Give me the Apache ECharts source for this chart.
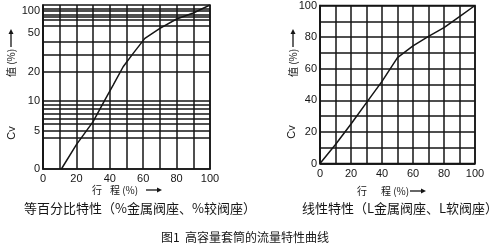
<!DOCTYPE html>
<html>
<head>
<meta charset="utf-8">
<script src="https://cdn.jsdelivr.net/npm/echarts@6/dist/echarts.min.js"></script>
<style>
html,body{margin:0;padding:0;background:#fff;}
#chart{width:500px;height:244px;}
</style>
</head>
<body>
<div id="chart"></div>
<script>
// ---- data ----
const leftTravel = [11, 20, 30, 37, 42, 48, 54, 61, 70, 80, 90, 100];
const leftCv     = [0, 3.2, 6.55, 10.3, 15.5, 24.1, 34.4, 45.9, 58.4, 75, 85.7, 100];
const rightTravel = [0, 10, 20, 30, 40, 50, 60, 70, 80, 90, 100];
const rightCv     = [0, 12, 25, 38.5, 52, 67, 74.5, 80.5, 86, 93, 100];
const xTickLabels = [0, 20, 40, 60, 80, 100];
const leftYTickLabels = [0, 5, 10, 20, 50, 100];
const leftYGridCv = [4.1, 5, 6.2, 7, 7.8, 8.7, 9.3, 10, 20.2, 33.6, 43.3, 62.5, 73.2, 78.6, 82.1, 89.3, 92.9];
const rightYTickLabels = [0, 20, 40, 60, 80, 100];

// ---- the left chart's irregular (pseudo-log) Cv scale: Cv -> axis units (0..100) ----
const scaleCv  = [0, 5, 10, 20, 50, 100];
const scalePos = [0, 23.2, 41.5, 59.1, 82.9, 100];
function toPos(cv) {
  for (let i = 1; i < scaleCv.length; i++) {
    if (cv <= scaleCv[i]) {
      const t = (cv - scaleCv[i - 1]) / (scaleCv[i] - scaleCv[i - 1]);
      return scalePos[i - 1] + t * (scalePos[i] - scalePos[i - 1]);
    }
  }
  return 100;
}
const leftLabelPos = leftYTickLabels.map(toPos);

const INK = '#151515';
const NUM_FONT = 'Liberation Sans, Arial, sans-serif';
const CJK_FONT = '"Noto Sans CJK SC", sans-serif';

const chart = echarts.init(document.getElementById('chart'), null, {renderer: 'canvas'});

function xAxisCfg(gridIndex, margin) {
  return {
    type: 'value', gridIndex, min: 0, max: 100, interval: 10,
    axisLine: {show: true, lineStyle: {color: INK, width: 1.5}},
    axisTick: {show: false},
    splitLine: {show: true, lineStyle: {color: INK, width: 1.5}},
    axisLabel: {
      color: INK, fontFamily: NUM_FONT, fontSize: 11, margin,
      formatter: v => (xTickLabels.indexOf(v) >= 0 ? String(v) : '')
    }
  };
}

function arrowUp(x, yTop, yBot) {
  return [
    {type: 'line', shape: {x1: x, y1: yBot, x2: x, y2: yTop + 4}, style: {stroke: INK, lineWidth: 1.3}},
    {type: 'polygon', shape: {points: [[x, yTop], [x - 2.5, yTop + 5], [x + 2.5, yTop + 5]]}, style: {fill: INK}}
  ];
}
function arrowRight(y, xL, xR) {
  return [
    {type: 'line', shape: {x1: xL, y1: y, x2: xR - 4, y2: y}, style: {stroke: INK, lineWidth: 1.3}},
    {type: 'polygon', shape: {points: [[xR, y], [xR - 5, y - 2.5], [xR - 5, y + 2.5]]}, style: {fill: INK}}
  ];
}
function rotText(text, x, y, size, font) {
  return {type: 'text', x, y, rotation: Math.PI / 2,
    style: {text, fill: INK, font: size + 'px ' + font, align: 'center', verticalAlign: 'middle'}};
}
function plainText(text, x, y, size, font, align) {
  return {type: 'text', x, y,
    style: {text, fill: INK, font: size + 'px ' + font, align: align || 'center', verticalAlign: 'middle'}};
}

const option = {
  backgroundColor: '#fff',
  animation: false,
  grid: [
    {left: 43, top: 5, width: 167, height: 164, show: true, borderColor: INK, borderWidth: 1.5, containLabel: false},
    {left: 320, top: 4.5, width: 155, height: 159, show: true, borderColor: INK, borderWidth: 1.5, containLabel: false}
  ],
  xAxis: [xAxisCfg(0, 4), xAxisCfg(1, 5)],
  yAxis: [
    {
      type: 'value', gridIndex: 0, min: 0, max: 100,
      axisLine: {show: true, lineStyle: {color: INK, width: 1.5}},
      axisTick: {show: false, customValues: leftYGridCv.map(toPos)},
      splitLine: {show: true, lineStyle: {color: INK, width: 1.5}},
      axisLabel: {
        color: INK, fontFamily: NUM_FONT, fontSize: 11, margin: 3,
        customValues: leftLabelPos,
        formatter: v => {
          let best = 0;
          leftLabelPos.forEach((p, i) => { if (Math.abs(p - v) < Math.abs(leftLabelPos[best] - v)) best = i; });
          const s = String(leftYTickLabels[best]);
          return best === leftLabelPos.length - 1 ? '{lo|' + s + '}' : s;
        },
        rich: {lo: {fontFamily: NUM_FONT, fontSize: 11, color: INK, padding: [12, 0, 0, 0]}}
      }
    },
    {
      type: 'value', gridIndex: 1, min: 0, max: 100, interval: 10,
      axisLine: {show: true, lineStyle: {color: INK, width: 1.5}},
      axisTick: {show: false},
      splitLine: {show: true, lineStyle: {color: INK, width: 1.5}},
      axisLabel: {
        color: INK, fontFamily: NUM_FONT, fontSize: 11, margin: 3,
        formatter: v => (rightYTickLabels.indexOf(v) >= 0 ? String(v) : '')
      }
    }
  ],
  series: [
    {
      type: 'line', xAxisIndex: 0, yAxisIndex: 0, symbol: 'none', silent: true,
      lineStyle: {color: INK, width: 1.5},
      data: leftTravel.map((x, i) => [x, toPos(leftCv[i])])
    },
    {
      type: 'line', xAxisIndex: 1, yAxisIndex: 1, symbol: 'none', silent: true,
      lineStyle: {color: INK, width: 1.5},
      data: rightTravel.map((x, i) => [x, rightCv[i]])
    }
  ],
  graphic: [
    // left y-axis name
    rotText('Cv', 12, 133, 11, NUM_FONT),
    rotText('值 (%)', 11, 63, 10, CJK_FONT),
    ...arrowUp(11, 29, 47),
    // right y-axis name
    rotText('Cv', 292, 132, 11, NUM_FONT),
    rotText('值 (%)', 293, 63, 10, CJK_FONT),
    ...arrowUp(293, 29, 47),
    // x-axis names
    plainText('行', 97, 190, 10, CJK_FONT),
    plainText('程 (%)', 110, 190, 10, CJK_FONT, 'left'),
    ...arrowRight(190, 146, 162),
    plainText('行', 362, 191, 10, CJK_FONT),
    plainText('程 (%)', 381, 191, 10, CJK_FONT, 'left'),
    ...arrowRight(191, 410, 426),
    // subtitles
    plainText('等百分比特性（%金属阀座、%较阀座）', 140, 208, 13, CJK_FONT),
    plainText('线性特性（L金属阀座、L软阀座）', 400, 208, 13, CJK_FONT),
    // figure title
    plainText('图1  高容量套筒的流量特性曲线', 245, 237, 12, CJK_FONT)
  ]
};
chart.setOption(option);
</script>
</body>
</html>
